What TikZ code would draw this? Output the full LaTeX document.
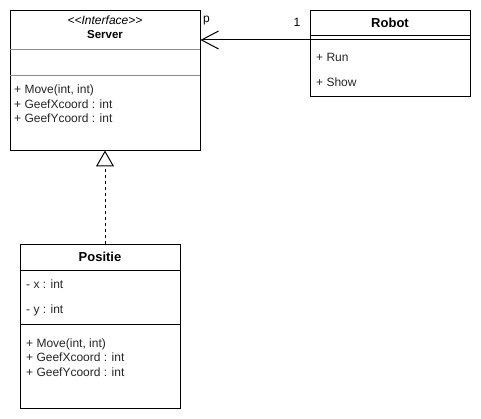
\documentclass[tikz,border=0pt]{standalone}
\usepackage{fontspec}
\setmainfont{Liberation Sans}
\usetikzlibrary{arrows.meta}
\tikzset{
  box/.style={draw=black, line width=1pt, fill=white, anchor=north west, inner sep=0pt},
  sep/.style={line width=1pt},
  lightsep/.style={draw=black!45, line width=1pt},
  member/.style={anchor=base west, inner sep=0pt, font=\fontsize{12}{14}\selectfont, text=black!85},
  title/.style={anchor=base, inner sep=0pt, font=\fontsize{13}{15}\selectfont\bfseries},
  lbl/.style={anchor=base, inner sep=0pt, font=\fontsize{12}{14}\selectfont},
}
\begin{document}
\begin{tikzpicture}[x=1pt,y=-1pt]
\useasboundingbox[fill=white] (0,0) rectangle (481,419);
% Server
\node[box, minimum width=190pt, minimum height=140pt] (server) at (10,10) {};
\draw[lightsep] (10,49.5) -- (200,49.5);
\draw[lightsep] (10,76) -- (200,76);
\node[anchor=base, inner sep=0pt, font=\fontsize{12}{14}\selectfont\itshape] (stereo) at (105,25) {{<}{<}Interface{>}{>}};
\node[anchor=base, inner sep=0pt, font=\fontsize{11.5}{14}\selectfont\bfseries] (servername) at (105,39) {Server};
\node[member] (s1) at (14,94) {+ Move(int, int)};
\node[member] (s2) at (14,108.5) {+ GeefXcoord : int};
\node[member] (s3) at (14,123) {+ GeefYcoord : int};
% Robot
\node[box, minimum width=160pt, minimum height=86pt] (robot) at (310,10) {};
\draw[sep] (310,36) -- (470,36);
\draw[sep] (310,40) -- (470,40);
\node[title] (robotname) at (390,27.5) {Robot};
\node[member] (r1) at (316,62) {+ Run};
\node[member] (r2) at (316,87) {+ Show};
% Positie
\node[box, minimum width=160pt, minimum height=164pt] (positie) at (20,244) {};
\draw[sep] (20,270) -- (180,270);
\draw[sep] (20,324) -- (180,324);
\node[title] (positiename) at (100,261.5) {Positie};
\node[member] (p1) at (26,288) {- x : int};
\node[member] (p2) at (26,313) {- y : int};
\node[member] (p3) at (26,347) {+ Move(int, int)};
\node[member] (p4) at (26,361.5) {+ GeefXcoord : int};
\node[member] (p5) at (26,376) {+ GeefYcoord : int};
% connectors
\coordinate (robotport) at (310,40);
\coordinate (serverport) at (200.5,40);
\draw[line width=1pt, -{Straight Barb[length=17pt, width=18pt, line width=1pt]}] (robotport) -- (serverport);
\node[lbl, anchor=base west] (mp) at (203,22.5) {p};
\node[lbl] (m1) at (297,27) {1};
\coordinate (positieport) at (105,244);
\coordinate (serverbottom) at (105,150.5);
\draw[line width=1pt, dash pattern=on 3pt off 3pt, -{Triangle[open, length=16pt, width=18pt, line width=1pt, fill=white]}] (positieport) -- (serverbottom);
\end{tikzpicture}
\end{document}
